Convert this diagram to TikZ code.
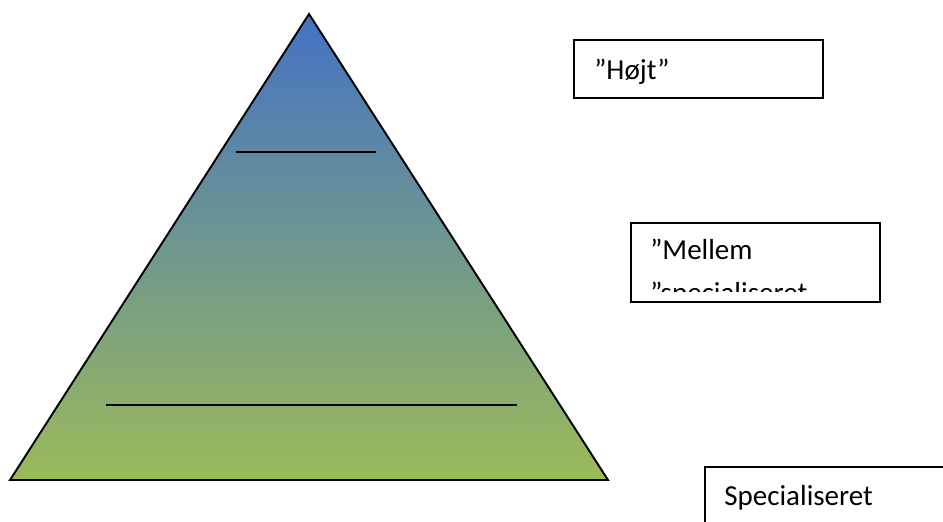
\documentclass[tikz,border=0pt]{standalone}
\usepackage{fontspec}
\setmainfont{Carlito}
\usetikzlibrary{positioning}
\definecolor{PeakBlue}{HTML}{4472C4}
\definecolor{BaseGreen}{HTML}{9BBB59}

\begin{document}
\begin{tikzpicture}[
  x=0.02cm,y=-0.02cm,
  font=\fontsize{16.5}{20}\selectfont,
  edge/.style={draw=black,line width=1.1pt,line join=miter},
  level/.style={draw=black,line width=1.1pt},
  tag/.style={draw=black,line width=1.1pt,fill=white,anchor=north west,
    inner sep=0pt},
  tagtext/.style={anchor=base west,inner sep=0pt}
]
  \useasboundingbox[fill=white] (0,0) rectangle (943,521);

  % pyramid
  \coordinate (apex) at (309,14);
  \coordinate (baseleft) at (10,480);
  \coordinate (baseright) at (608,480);
  \shade[top color=PeakBlue,bottom color=BaseGreen]
    (apex) -- (baseleft) -- (baseright) -- cycle;
  \draw[edge] (apex) -- (baseleft) -- (baseright) -- cycle;
  \draw[level] (236,152) -- (376,152);
  \draw[level] (106,405) -- (517,405);

  % labels
  \node[tag,minimum width=4.98cm,minimum height=1.16cm] (high) at (573,39) {};
  \node[tagtext] (hightext) at (594,79) {”Højt”};

  \node[tag,minimum width=4.98cm,minimum height=1.58cm] (mid) at (630,222) {};
  \begin{scope}
    \clip (632,224) rectangle (877,291);
    \node[tagtext] (midtext) at (650,259) {”Mellem};
    \node[tagtext] (midtext2) at (650,302) {”specialiseret};
  \end{scope}

  \node[tag,minimum width=5cm,minimum height=1.3cm] (low) at (704,466) {};
  \node[tagtext] (lowtext) at (724,505) {Specialiseret};
\end{tikzpicture}
\end{document}
